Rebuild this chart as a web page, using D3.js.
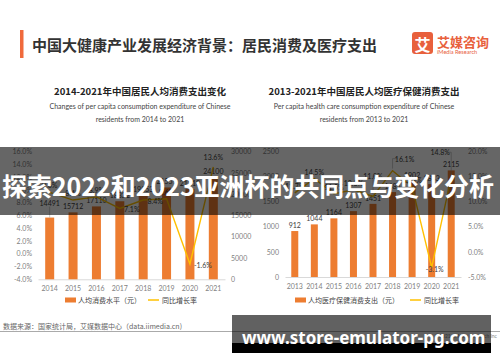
<!DOCTYPE html>
<html lang="zh">
<head>
<meta charset="UTF-8">
<title>居民消费及医疗支出</title>
<style>
  body { margin: 0; background: #fff; }
  svg { display: block; font-family: "Noto Sans CJK SC", "Noto Sans", sans-serif; }
</style>
<script src="https://d3js.org/d3.v7.min.js"></script>
</head>
<body>
<svg width="500" height="362"></svg>
<script>
  // left chart: per capita consumption 2014-2021
  const leftYears = ["2014", "2015", "2016", "2017", "2018", "2019", "2020", "2021"];
  const leftSpend = [14491, 15712, 17110, 18322, 19853, 21559, 21210, 24100];
  const leftGrowth = [9.6, 8.4, 8.9, 7.1, 8.4, 8.6, -1.6, 13.6];
  const leftPctTicks = [-4, -2, 0, 2, 4, 6, 8, 10, 12, 14, 16];
  const leftValTicks = [0, 5000, 10000, 15000, 20000, 25000, 30000];

  // right chart: per capita health care 2013-2021
  const rightYears = ["2013", "2014", "2015", "2016", "2017", "2018", "2019", "2020", "2021"];
  const rightSpend = [912, 1044, 1164, 1307, 1451, 1685, 1902, 1843, 2115];
  const rightGrowth = [11.7, 14.5, 11.5, 12.3, 11.0, 16.1, 12.9, -3.1, 14.8];
  const rightValTicks = [0, 500, 1000, 1500, 2000, 2500];
  const rightPctTicks = [-5, 0, 5, 10, 15, 20];

  const ORANGE = "#ED7D31", YELLOW = "#FFC000", TICK = "#7f7f7f", GRID = "#D9D9D9";

  const svg = d3.select("svg");

  // header
  svg.append("rect").attr("x", 20).attr("y", 30).attr("width", 3.5).attr("height", 28).attr("fill", "#F06A3C");
  svg.append("text").attr("x", 32).attr("y", 44).attr("dominant-baseline", "central")
    .attr("font-size", 15).attr("font-weight", "bold").attr("fill", "#333")
    .text("中国大健康产业发展经济背景：居民消费及医疗支出");

  // logo
  svg.append("rect").attr("x", 412).attr("y", 32).attr("width", 21).attr("height", 22).attr("rx", 3).attr("fill", "#E8603C");
  svg.append("text").attr("x", 422.5).attr("y", 43.5).attr("text-anchor", "middle").attr("dominant-baseline", "central")
    .attr("font-size", 16).attr("font-weight", "bold").attr("fill", "#fff").text("艾");
  svg.append("text").attr("x", 437).attr("y", 41).attr("dominant-baseline", "central")
    .attr("font-size", 13).attr("font-weight", "bold").attr("fill", "#E8603C").text("艾媒咨询");
  svg.append("text").attr("x", 437).attr("y", 51).attr("dominant-baseline", "central")
    .attr("font-size", 5.6).attr("fill", "#E8603C").attr("font-family", "Lato, sans-serif").text("iMedia Research");

  function drawChart(c) {
    const g = svg.append("g");

    g.append("text").attr("x", c.cx).attr("y", 91).attr("text-anchor", "middle").attr("dominant-baseline", "central")
      .attr("font-size", 9.5).attr("font-weight", "bold").attr("fill", "#222").text(c.title);
    c.sub.forEach((s, i) => {
      g.append("text").attr("x", c.cx).attr("y", 106 + i * 12.5).attr("text-anchor", "middle").attr("dominant-baseline", "central")
        .attr("font-size", 7).attr("fill", "#444").attr("font-family", "Lato, sans-serif").text(s);
    });

    const x = d3.scaleBand().domain(c.years).range(c.xRange).paddingInner(c.pad).paddingOuter(c.pad / 2);
    const yBar = d3.scaleLinear().domain(c.barDomain).range([c.bottom, c.top]);
    const yLine = d3.scaleLinear().domain(c.lineDomain).range([c.bottom, c.top]);

    // axes
    const leftAxis = c.barLeft ? d3.axisLeft(yBar).tickValues(c.barTicks).tickFormat(d3.format("d"))
                               : d3.axisLeft(yLine).tickValues(c.lineTicks).tickFormat(d => d.toFixed(1) + "%");
    const rightAxis = c.barLeft ? d3.axisRight(yLine).tickValues(c.lineTicks).tickFormat(d => d.toFixed(1) + "%")
                                : d3.axisRight(yBar).tickValues(c.barTicks).tickFormat(d3.format("d"));
    [[leftAxis, c.leftLabelX], [rightAxis, c.rightLabelX]].forEach(([ax, lx]) => {
      const a = g.append("g").attr("transform", `translate(${lx},0)`).call(ax.tickSize(0).tickPadding(0));
      a.select(".domain").remove();
      a.selectAll("text").attr("font-size", 7).attr("fill", TICK).attr("font-family", "Lato, sans-serif");
    });

    const xa = g.append("g").attr("transform", `translate(0,${c.bottom})`)
      .call(d3.axisBottom(x).tickSize(0).tickPadding(7));
    xa.select(".domain").attr("stroke", GRID);
    xa.selectAll("text").attr("font-size", 7).attr("fill", TICK).attr("font-family", "Lato, sans-serif");

    // bars
    const bw = c.barWidth;
    const cxOf = d => x(d) + x.bandwidth() / 2;
    g.selectAll(".bar").data(c.spend).enter().append("rect")
      .attr("x", (d, i) => cxOf(c.years[i]) - bw / 2)
      .attr("y", d => yBar(d))
      .attr("width", bw)
      .attr("height", d => c.bottom - yBar(d))
      .attr("fill", ORANGE);

    g.selectAll(".blab").data(c.spend).enter().append("text")
      .attr("x", (d, i) => cxOf(c.years[i]))
      .attr("y", (d, i) => yBar(d) + (c.barLab[i] || -6))
      .attr("text-anchor", "middle").attr("dominant-baseline", "central")
      .attr("font-size", 7).attr("fill", "#404040").attr("font-family", "Lato, sans-serif")
      .text(d => d);
    c.spend.forEach((d, i) => {
      if (c.barLab[i] && c.barLab[i] < -8) {
        g.append("line").attr("x1", cxOf(c.years[i])).attr("x2", cxOf(c.years[i]))
          .attr("y1", yBar(d) + c.barLab[i] + 4).attr("y2", yBar(d)).attr("stroke", "#999").attr("stroke-width", 0.5);
      }
    });

    // growth line
    const line = d3.line().x((d, i) => cxOf(c.years[i])).y(d => yLine(d));
    g.append("path").datum(c.growth).attr("d", line).attr("fill", "none").attr("stroke", YELLOW).attr("stroke-width", 1.4);

    c.growth.forEach((d, i) => {
      const p = c.lineLab[i] || [0, -7];
      const px = cxOf(c.years[i]), py = yLine(d);
      if (p[2]) {
        g.append("polyline").attr("points", `${px},${py - 2} ${px},${py + p[1]} ${px + p[0] * 0.4},${py + p[1]}`)
          .attr("fill", "none").attr("stroke", "#999").attr("stroke-width", 0.5);
      }
      g.append("text").attr("x", px + p[0]).attr("y", py + p[1])
        .attr("text-anchor", "middle").attr("dominant-baseline", "central")
        .attr("font-size", 7).attr("fill", "#404040").attr("font-family", "Lato, sans-serif")
        .text(d.toFixed(1) + "%");
    });

    // legend
    const lg = g.append("g").attr("font-size", 7).attr("fill", "#404040");
    lg.append("rect").attr("x", c.legX).attr("y", 297.5).attr("width", 11).attr("height", 5).attr("fill", ORANGE);
    lg.append("text").attr("x", c.legX + 13).attr("y", 300).attr("dominant-baseline", "central").text(c.legBar);
    lg.append("line").attr("x1", c.legX2).attr("x2", c.legX2 + 11).attr("y1", 300).attr("y2", 300)
      .attr("stroke", YELLOW).attr("stroke-width", 1.5);
    lg.append("text").attr("x", c.legX2 + 14).attr("y", 300).attr("dominant-baseline", "central").text("同比增长率");
  }

  drawChart({
    title: "2014-2021年中国居民人均消费支出变化",
    sub: ["Changes of per capita consumption expenditure of Chinese", "residents from 2014 to 2021"],
    cx: 140, years: leftYears, spend: leftSpend, growth: leftGrowth,
    xRange: [38, 225], pad: 0.6, barWidth: 9,
    top: 151.5, bottom: 279.3,
    barDomain: [0, 30000], barTicks: leftValTicks,
    lineDomain: [-4, 16], lineTicks: leftPctTicks,
    barLeft: false, leftLabelX: 32, rightLabelX: 231,
    barLab: {0: -15},
    lineLab: {3: [12, 1], 4: [12, 1], 6: [13, 1], 7: [0, -10]},
    legX: 65, legX2: 148, legBar: "人均消费水平（元）"
  });

  drawChart({
    title: "2013-2021年中国居民人均医疗保健消费支出",
    sub: ["Per capita health care consumption expenditure of Chinese", "residents from 2013 to 2021"],
    cx: 364, years: rightYears, spend: rightSpend, growth: rightGrowth,
    xRange: [285, 461], pad: 0.62, barWidth: 7,
    top: 151, bottom: 277,
    barDomain: [0, 2500], barTicks: rightValTicks,
    lineDomain: [-5, 20], lineTicks: rightPctTicks,
    barLeft: true, leftLabelX: 279, rightLabelX: 468,
    barLab: {},
    lineLab: {4: [0, -20, true], 5: [12, -12, true], 7: [3, 2], 8: [-11, -25, true]},
    legX: 295, legX2: 410, legBar: "人均医疗保健消费支出（元）"
  });

  // footer
  svg.append("text").attr("x", 3).attr("y", 326).attr("dominant-baseline", "central")
    .attr("font-size", 7).attr("fill", "#666").text("数据来源：国家统计局，艾媒数据中心（data.iimedia.cn)");
  svg.append("line").attr("x1", 0).attr("x2", 500).attr("y1", 331.5).attr("y2", 331.5).attr("stroke", "#aaa").attr("stroke-width", 1);
  svg.append("text").attr("x", 497).attr("y", 336).attr("text-anchor", "end").attr("dominant-baseline", "central")
    .attr("font-size", 5).attr("fill", "#888").attr("font-family", "Lato, sans-serif").text("©2021 iiMedia Research Inc");

  // overlay band with headline
  svg.append("rect").attr("x", 0).attr("y", 147).attr("width", 500).attr("height", 68).attr("fill", "#000").attr("opacity", 0.6);
  svg.append("text").attr("x", 2).attr("y", 185).attr("dominant-baseline", "central")
    .attr("font-size", 25).attr("font-weight", "bold").attr("fill", "#fff")
    .attr("textLength", 492).attr("lengthAdjust", "spacingAndGlyphs")
    .text("探索2022和2023亚洲杯的共同点与变化分析");

  // watermark box
  svg.append("rect").attr("x", 232).attr("y", 315).attr("width", 259).attr("height", 28).attr("fill", "#000").attr("opacity", 0.62);
  svg.append("rect").attr("x", 232).attr("y", 343).attr("width", 259).attr("height", 10).attr("fill", "#000");
  svg.append("text").attr("x", 242).attr("y", 337).attr("dominant-baseline", "central")
    .attr("font-size", 17).attr("font-weight", "bold").attr("fill", "#fff").attr("font-family", "Noto Sans, sans-serif")
    .text("www.store-emulator-pg.com");
</script>
</body>
</html>
